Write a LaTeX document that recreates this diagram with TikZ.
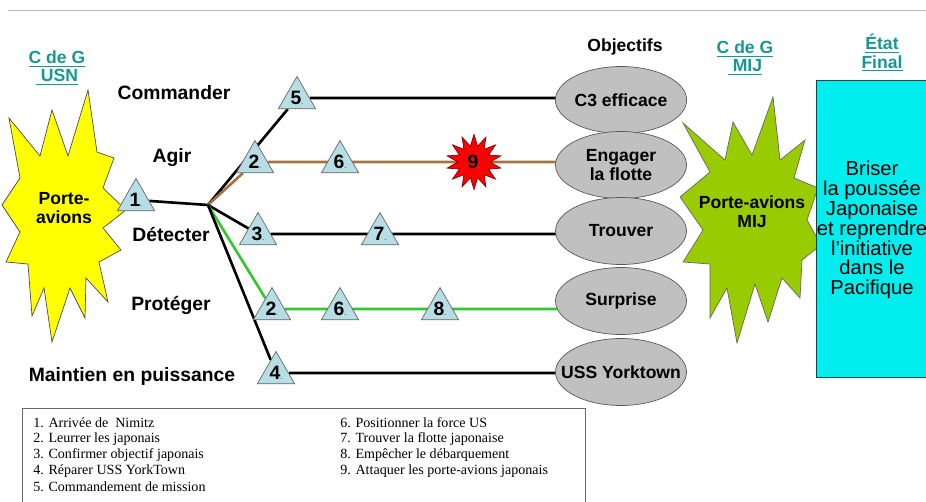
\documentclass[tikz,border=0pt]{standalone}
\usepackage{fontspec}
\setmainfont{Liberation Sans}
\newfontfamily\legendefont{Liberation Serif}
\usetikzlibrary{shapes.geometric,backgrounds}

\definecolor{tealtete}{RGB}{24,150,150}
\definecolor{bleutache}{RGB}{183,222,228}
\definecolor{grisobj}{RGB}{192,192,192}
\definecolor{jauneusn}{RGB}{255,255,0}
\definecolor{vertmij}{RGB}{153,204,0}
\definecolor{cyanfinal}{RGB}{0,238,238}
\definecolor{brunagir}{RGB}{165,115,65}
\definecolor{vertprot}{RGB}{50,200,50}

\tikzset{
  tache/.style={regular polygon, regular polygon sides=3, draw=gray!80!black, fill=bleutache,
    minimum size=0.86cm, inner sep=0pt, font=\bfseries\fontsize{11}{11}\selectfont},
  objectif/.style={ellipse, draw=gray!70!black, fill=grisobj, minimum width=2.62cm,
    minimum height=1.34cm, inner sep=0pt, align=center, font=\bfseries\fontsize{10}{11}\selectfont},
  fonction/.style={font=\bfseries\fontsize{11}{12}\selectfont},
  entete/.style={text=tealtete, align=center, font=\bfseries\fontsize{10}{10.5}\selectfont},
  ligne/.style={line width=1.5pt},
  legende/.style={anchor=west, inner sep=0pt, font=\legendefont\fontsize{8}{9}\selectfont},
}
\newcommand{\tachenum}[1]{\raisebox{-2pt}{#1\textcolor{tealtete}{\fontsize{4}{4}\selectfont.}}}

\begin{document}
\begin{tikzpicture}[x=0.02cm, y=-0.02cm]
    \useasboundingbox (0,0) rectangle (926,501);
    \clip (0,0) rectangle (926,501);

    % Trait du haut
    \draw[gray!50] (8,10) -- (926,10);

    % Centre de gravite USN
    \filldraw[fill=jauneusn, draw=black!70] (88,90) -- (97,152) -- (114,158) -- (103,188) -- (126,210)
        -- (103,228) -- (121,250) -- (99,262) -- (108,302) -- (86,278) -- (85,318) -- (70,288)
        -- (52,342) -- (44,288) -- (32,316) -- (28,264) -- (6,262) -- (20,232) -- (2,205)
        -- (20,178) -- (9,118) -- (40,156) -- (52,110) -- (68,156) -- cycle;
    \node[entete] (cdgusn) at (57,68) {\underline{C de G}\\\underline{\ USN}};
    \node[font=\bfseries\fontsize{10}{11}\selectfont, align=center] (usn) at (64,208) {Porte-\\avions};

    % Fonctions
    \node[fonction] (commander) at (174,93) {Commander};
    \node[fonction] (agir) at (172,158) {Agir};
    \node[fonction] (detecter) at (171,234) {Détecter};
    \node[fonction] (proteger) at (171,305) {Protéger};
    \node[fonction] (maintien) at (132,376) {Maintien en puissance};

    % Taches
    \coordinate (hub) at (208,205);
    \node[tache] (t1) at (136,200) {\tachenum{1}};
    \node[tache] (t5) at (297,98) {\tachenum{5}};
    \node[tache] (t2a) at (255,162) {\tachenum{2}};
    \node[tache] (t6a) at (340,162) {\tachenum{6}};
    \node[star, star points=14, star point ratio=1.7, minimum size=1.1cm, inner sep=0pt,
        fill=red, draw=red!50!black, font=\bfseries\fontsize{11}{11}\selectfont] (t9) at (474,162) {\tachenum{9}};
    \node[tache] (t3) at (258,234) {\tachenum{3}};
    \node[tache] (t7) at (380,234) {\tachenum{7}};
    \node[tache] (t2b) at (272,309) {\tachenum{2}};
    \node[tache] (t6b) at (340,309) {\tachenum{6}};
    \node[tache] (t8) at (440,309) {\tachenum{8}};
    \node[tache] (t4) at (276,373) {\tachenum{4}};

    % Objectifs
    \node[font=\bfseries\fontsize{10}{11}\selectfont] (objectifs) at (625,47) {Objectifs};
    \node[objectif] (c3) at (621,100) {C3 efficace};
    \node[objectif] (engager) at (621,165) {Engager\\la flotte};
    \node[objectif] (trouver) at (621,231) {Trouver};
    \node[objectif] (surprise) at (621,301) {Surprise};
    \node[objectif] (yorktown) at (621,372) {\makebox[1.5cm]{USS Yorktown}};

    % Lignes d'operation
    \begin{pgfonlayer}{background}
        \draw[ligne] (t1) -- (hub);
        \draw[ligne] (hub) -- (t5) -- (t5 -| c3);
        \draw[ligne, brunagir] (hub) -- (t2a) -- (t2a -| engager);
        \draw[ligne] (hub) -- (t3) -- (t3 -| trouver);
        \draw[ligne, vertprot] (hub) -- (t2b) -- (t2b -| surprise);
        \draw[ligne] (hub) -- (t4) -- (t4 -| yorktown);
    \end{pgfonlayer}

    % Centre de gravite MIJ
    \filldraw[fill=vertmij, draw=black!60] (683,123) -- (725,160) -- (733,122) -- (752,155) -- (773,97)
        -- (780,160) -- (805,140) -- (794,178) -- (818,188) -- (807,220) -- (821,245) -- (802,260)
        -- (800,298) -- (782,278) -- (768,322) -- (755,284) -- (737,343) -- (727,288) -- (710,318)
        -- (710,264) -- (683,262) -- (703,230) -- (680,197) -- (710,172) -- cycle;
    \node[entete] (cdgmij) at (745,58) {\underline{C de G}\\\underline{\ MIJ}};
    \node[font=\bfseries\fontsize{10}{11}\selectfont, align=center] (mij) at (752,212) {Porte-avions\\MIJ};

    % Etat final
    \node[entete] (etat) at (882,53) {\underline{État}\\\underline{Final}};
    \filldraw[fill=cyanfinal, draw=teal!60!black] (816,80) rectangle (940,377);
    \node[align=center, font=\fontsize{11.5}{11.3}\selectfont] (final) at (872,230)
        {Briser\\la poussée\\Japonaise\\et reprendre\\l’initiative\\dans le\\Pacifique};

    % Legende
    \draw[gray!80!black] (22,408) rectangle (585,520);
    \node[legende] (l1) at (33,423) {1. Arrivée de \ Nimitz};
    \node[legende] (l2) at (33,439) {2. Leurrer les japonais};
    \node[legende] (l3) at (33,455) {3. Confirmer objectif japonais};
    \node[legende] (l4) at (33,471) {4. Réparer USS YorkTown};
    \node[legende] (l5) at (33,487) {5. Commandement de mission};
    \node[legende] (l6) at (340,423) {6. Positionner la force US};
    \node[legende] (l7) at (340,439) {7. Trouver la flotte japonaise};
    \node[legende] (l8) at (340,455) {8. Empêcher le débarquement};
    \node[legende] (l9) at (340,471) {9. Attaquer les porte-avions japonais};

\end{tikzpicture}
\end{document}
